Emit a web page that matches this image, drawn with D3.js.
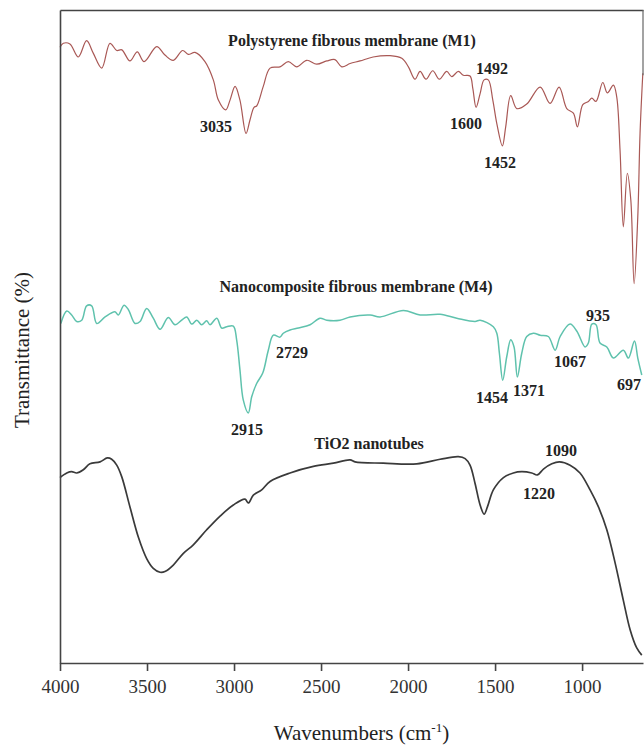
<!DOCTYPE html>
<html>
<head>
  <title>FTIR spectra</title>
  <meta charset="utf8">
  <style type="text/css">
    body { margin: 0; background: #fff; }
    svg text { font-family: "Liberation Serif", "Times New Roman", serif; fill: #222; }
    .axis path, .axis line { stroke: #444; stroke-width: 1.6; }
    .axis text { font-size: 19px; fill: #333; }
    .note { font-weight: bold; font-size: 16px; text-anchor: middle; }
  </style>
</head>
<body>

<script src="https://d3js.org/d3.v7.min.js"></script>

<script type="text/javascript">
var width = 644, height = 747;

// [wavenumber (cm-1), transmittance (a.u.)]
var m1 = [[4000,94.3],[3981,94.9],[3943,94.8],[3895,92.8],[3847,95.3],[3809,93.4],[3760,91.1],[3713,94.9],[3674,93.8],[3645,93.9],[3598,92.2],[3556,93.6],[3517,92.1],[3444,94.4],[3397,93.1],[3349,92.3],[3295,93.8],[3263,93.2],[3224,93.5],[3167,92.1],[3119,89.3],[3090,86.2],[3048,84.7],[3023,86.2],[2994,88.3],[2966,86.2],[2931,81.1],[2908,83.2],[2885,85.1],[2870,85.3],[2832,88.3],[2793,91.1],[2736,91.3],[2688,92.1],[2640,91.3],[2582,92.3],[2525,91.7],[2467,92.2],[2420,92.4],[2381,91.3],[2333,91.8],[2276,92.2],[2201,92.8],[2103,93.0],[2036,92.6],[1998,91.3],[1960,89.4],[1931,90.6],[1897,89.4],[1858,90.7],[1820,89.4],[1778,90.6],[1749,89.8],[1711,90.6],[1682,90.0],[1644,89.9],[1628,88.0],[1609,85.1],[1586,87.2],[1563,89.3],[1539,89.3],[1513,86.2],[1490,82.6],[1458,79.2],[1439,82.1],[1410,86.9],[1375,84.9],[1318,85.6],[1241,88.2],[1184,85.7],[1132,88.2],[1088,84.9],[1050,84.2],[1027,82.1],[996,85.5],[964,86.0],[944,86.5],[920,86.0],[881,88.9],[855,87.3],[820,88.5],[801,86.7],[782,78.6],[763,66.8],[740,75.0],[720,70.9],[701,58.1],[680,68.3],[667,81.1],[651,90.3]];

var m4 = [[3995,52.0],[3961,53.9],[3933,53.3],[3904,52.3],[3875,52.5],[3847,54.7],[3818,54.7],[3789,52.0],[3741,53.0],[3684,53.8],[3665,53.3],[3632,54.8],[3607,54.1],[3569,52.0],[3540,52.3],[3502,54.3],[3464,52.8],[3425,51.1],[3378,52.9],[3339,51.8],[3301,52.5],[3272,53.0],[3243,51.9],[3214,52.5],[3186,51.8],[3157,52.4],[3138,51.8],[3099,52.8],[3071,51.3],[3042,51.5],[3004,51.6],[2985,49.5],[2966,44.9],[2947,40.3],[2918,38.3],[2898,40.8],[2870,42.8],[2835,44.4],[2803,47.9],[2774,50.2],[2736,49.9],[2717,50.5],[2678,51.0],[2630,51.3],[2563,51.8],[2506,52.8],[2467,52.5],[2391,52.5],[2333,53.0],[2218,53.3],[2161,53.0],[2027,54.0],[1931,53.3],[1816,53.4],[1720,52.8],[1615,52.3],[1586,52.5],[1510,51.5],[1490,50.5],[1475,47.4],[1456,43.3],[1433,46.9],[1410,49.5],[1391,48.4],[1372,43.8],[1347,47.4],[1318,50.0],[1280,50.5],[1241,50.2],[1194,50.0],[1155,47.9],[1126,50.0],[1069,51.9],[1030,50.8],[983,48.4],[964,49.0],[944,51.9],[920,51.8],[897,49.0],[858,48.4],[820,46.7],[763,47.9],[734,46.7],[699,49.3],[680,46.7],[657,44.1]];

var tio2 = [[4000,28.4],[3961,29.1],[3933,29.3],[3904,29.1],[3866,29.6],[3828,30.5],[3770,30.8],[3728,31.4],[3703,31.2],[3674,30.3],[3645,28.5],[3598,23.9],[3550,19.3],[3502,16.0],[3464,14.5],[3425,13.9],[3397,14.0],[3349,15.0],[3291,16.8],[3234,18.1],[3157,20.4],[3080,22.5],[3004,24.2],[2937,25.1],[2918,24.5],[2889,25.7],[2841,26.5],[2793,27.8],[2678,29.1],[2544,30.1],[2429,30.6],[2333,31.1],[2305,30.8],[2142,30.6],[1950,30.5],[1816,31.2],[1711,31.6],[1672,31.3],[1644,30.3],[1615,27.5],[1586,24.2],[1563,22.8],[1544,23.9],[1510,26.5],[1452,28.4],[1395,29.1],[1347,29.3],[1289,29.1],[1257,28.8],[1222,29.7],[1174,30.5],[1130,30.8],[1069,30.3],[1012,29.1],[954,26.5],[906,23.9],[858,20.4],[810,15.3],[763,9.6],[724,5.1],[686,2.3],[657,1.2]];

var xTicks = [4000, 3500, 3000, 2500, 2000, 1500, 1000];

// sample names and peak labels: [text, wavenumber, transmittance]
var titles = [['Polystyrene fibrous membrane (M1)', 2322, 95.4],
              ['Nanocomposite fibrous membrane (M4)', 2299, 57.6],
              ['TiO2 nanotubes', 2224, 33.7]];
var peaks = [['3035', 3103, 82.1], ['1492', 1517, 91.1], ['1600', 1667, 82.7], ['1452', 1471, 76.6],
             ['2729', 2667, 47.5], ['2915', 2925, 35.8], ['1454', 1517, 40.6], ['1371', 1305, 41.7],
             ['1067', 1069, 46.2], ['935', 908, 53.3], ['697', 730, 42.6],
             ['1090', 1121, 32.6], ['1220', 1247, 26.0]];

var x = d3.scaleLinear().domain([4000, 650]).range([60, 643]);
var y = d3.scaleLinear().domain([0, 100]).range([663, 10]);

var svg = d3.select('body').append('svg')
    .attr('width', width)
    .attr('height', height);

var line = d3.line()
    .x(function(d) { return x(d[0]); })
    .y(function(d) { return y(d[1]); })
    .curve(d3.curveCatmullRom.alpha(0.5));

svg.append('path').datum(m1)
    .attr('d', line)
    .style('fill', 'none').style('stroke', '#a95855').style('stroke-width', 1.2);

svg.append('path').datum(m4)
    .attr('d', line)
    .style('fill', 'none').style('stroke', '#5fc2ad').style('stroke-width', 1.5);

svg.append('path').datum(tio2)
    .attr('d', line)
    .style('fill', 'none').style('stroke', '#3a3a3a').style('stroke-width', 1.7);

// frame
svg.append('g').attr('class', 'axis')
    .attr('transform', 'translate(0,' + y(0) + ')')
    .call(d3.axisBottom(x).tickValues(xTicks).tickFormat(d3.format('d'))
      .tickSize(8).tickSizeOuter(0).tickPadding(9));

svg.append('g').attr('class', 'axis')
    .attr('transform', 'translate(' + x(4000) + ',0)')
    .call(d3.axisLeft(y).tickValues([]).tickSizeOuter(0));

svg.append('g').attr('class', 'axis')
    .attr('transform', 'translate(0,' + y(100) + ')')
    .call(d3.axisTop(x).tickValues([]).tickSizeOuter(0));

svg.append('line')
    .attr('x1', x(650)).attr('x2', x(650))
    .attr('y1', y(100)).attr('y2', y(90))
    .style('stroke', '#666').style('stroke-width', 1.2);

svg.selectAll('.title').data(titles).enter().append('text')
    .attr('class', 'note')
    .style('font-size', '16px')
    .attr('x', function(d) { return x(d[1]); })
    .attr('y', function(d) { return y(d[2]); })
    .attr('dy', '0.35em')
    .text(function(d) { return d[0]; });

svg.selectAll('.peak').data(peaks).enter().append('text')
    .attr('class', 'note')
    .attr('x', function(d) { return x(d[1]); })
    .attr('y', function(d) { return y(d[2]); })
    .attr('dy', '0.35em')
    .text(function(d) { return d[0]; });

// axis titles
var xt = svg.append('text')
    .attr('x', (x.range()[0] + x.range()[1]) / 2 + 10)
    .attr('y', 740)
    .style('font-size', '21px')
    .style('text-anchor', 'middle')
    .text('Wavenumbers (cm');
xt.append('tspan').attr('dy', -8).style('font-size', '13px').text('-1');
xt.append('tspan').attr('dy', 8).text(')');

svg.append('text')
    .attr('transform', 'translate(29,' + 350 + ') rotate(-90)')
    .style('font-size', '21px')
    .style('text-anchor', 'middle')
    .text('Transmittance (%)');

</script>

</body>
</html>
